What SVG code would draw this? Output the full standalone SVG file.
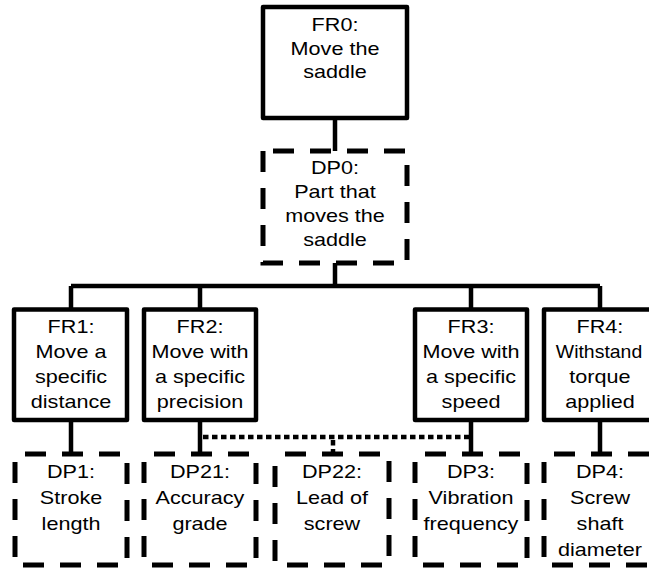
<svg xmlns="http://www.w3.org/2000/svg" width="649" height="569" viewBox="0 0 649 569">
<style>
.solid{fill:#fff;stroke:#000;stroke-width:4.5;stroke-linejoin:round}
.dash{fill:#fff;stroke:#000;stroke-width:5;stroke-dasharray:21 16;stroke-dashoffset:27}
.conn{fill:none;stroke:#000;stroke-width:4.5}
.dot{fill:none;stroke:#000;stroke-width:4.5;stroke-dasharray:5.5 3.5}
text{font-family:"Liberation Sans",Arial,sans-serif;font-size:18px;fill:#000;text-anchor:middle}
</style>
<rect width="649" height="569" fill="#fff"/>
<g id="connectors">
<path class="conn" d="M335 118V151M335 263V286M71 286H600M71 286V309M200 286V309M471 286V309M600 286V309M71 420V454M200 420V454M471 420V454M600 420V454"/>
<path class="dot" d="M203 437H471M333 440V454"/>
</g>
<g id="FR0"><rect class="solid" x="263" y="7" width="144" height="111"/>
<text transform="translate(335,0) scale(1.2,1)"><tspan x="0" y="31">FR0:</tspan><tspan x="0" y="55">Move the</tspan><tspan x="0" y="78.5">saddle</tspan></text></g>
<g id="DP0"><rect class="dash" x="263" y="151" width="144" height="112"/>
<text transform="translate(335,0) scale(1.2,1)"><tspan x="0" y="174">DP0:</tspan><tspan x="0" y="198">Part that</tspan><tspan x="0" y="222">moves the</tspan><tspan x="0" y="246">saddle</tspan></text></g>
<g id="FR1"><rect class="solid" x="14" y="309.5" width="113" height="110.5"/>
<text transform="translate(71,0) scale(1.2,1)"><tspan x="0" y="333">FR1:</tspan><tspan x="0" y="358">Move a</tspan><tspan x="0" y="383">specific</tspan><tspan x="0" y="408">distance</tspan></text></g>
<g id="FR2"><rect class="solid" x="144" y="309.5" width="112" height="110.5"/>
<text transform="translate(200,0) scale(1.2,1)"><tspan x="0" y="333">FR2:</tspan><tspan x="0" y="358">Move with</tspan><tspan x="0" y="383">a specific</tspan><tspan x="0" y="408">precision</tspan></text></g>
<g id="FR3"><rect class="solid" x="415" y="309.5" width="112" height="110.5"/>
<text transform="translate(471,0) scale(1.2,1)"><tspan x="0" y="333">FR3:</tspan><tspan x="0" y="358">Move with</tspan><tspan x="0" y="383">a specific</tspan><tspan x="0" y="408">speed</tspan></text></g>
<g id="FR4"><rect class="solid" x="544" y="309.5" width="112" height="110.5"/>
<text transform="translate(599,0) scale(1.2,1)"><tspan x="0.8" y="333">FR4:</tspan><tspan x="0" y="358" textLength="72" lengthAdjust="spacingAndGlyphs">Withstand</tspan><tspan x="0.8" y="383">torque</tspan><tspan x="0.8" y="408">applied</tspan></text></g>
<g id="DP1"><rect class="dash" x="15" y="454" width="112" height="111"/>
<text transform="translate(71,0) scale(1.2,1)"><tspan x="0" y="478">DP1:</tspan><tspan x="0" y="504">Stroke</tspan><tspan x="0" y="530">length</tspan></text></g>
<g id="DP21"><rect class="dash" x="144" y="454" width="112" height="111"/>
<text transform="translate(200,0) scale(1.2,1)"><tspan x="0" y="478">DP21:</tspan><tspan x="0" y="504">Accuracy</tspan><tspan x="0" y="530">grade</tspan></text></g>
<g id="DP22"><rect class="dash" x="275" y="454" width="114" height="111"/>
<text transform="translate(332,0) scale(1.2,1)"><tspan x="0" y="478">DP22:</tspan><tspan x="0" y="504">Lead of</tspan><tspan x="0" y="530">screw</tspan></text></g>
<g id="DP3"><rect class="dash" x="415" y="454" width="112" height="111"/>
<text transform="translate(471,0) scale(1.2,1)"><tspan x="0" y="478">DP3:</tspan><tspan x="0" y="504">Vibration</tspan><tspan x="0" y="530">frequency</tspan></text></g>
<g id="DP4"><rect class="dash" x="544" y="454" width="112" height="111"/>
<text transform="translate(600,0) scale(1.2,1)"><tspan x="0" y="478">DP4:</tspan><tspan x="0" y="504">Screw</tspan><tspan x="0" y="530">shaft</tspan><tspan x="0" y="556">diameter</tspan></text></g>
</svg>
